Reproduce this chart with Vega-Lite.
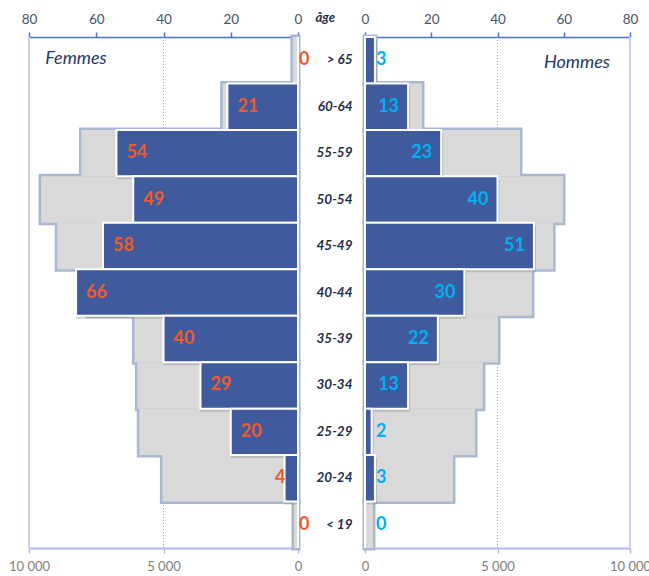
{
  "$schema": "https://vega.github.io/schema/vega-lite/v6.json",
  "padding": {"left": 8, "top": 11, "right": 0, "bottom": 0},
  "bounds": "flush",
  "spacing": 67,
  "config": {
    "font": "Lato",
    "view": {"stroke": null},
    "axis": {"grid": false, "labelFont": "Lato", "titleFont": "Lato"}
  },
  "data": {
    "values": [
      {"age": "> 65", "f": 0, "h": 3, "fPop": 190, "hPop": 380},
      {"age": "60-64", "f": 21, "h": 13, "fPop": 2800, "hPop": 2150},
      {"age": "55-59", "f": 54, "h": 23, "fPop": 8050, "hPop": 5850},
      {"age": "50-54", "f": 49, "h": 40, "fPop": 9550, "hPop": 7470},
      {"age": "45-49", "f": 58, "h": 51, "fPop": 8950, "hPop": 7100},
      {"age": "40-44", "f": 66, "h": 30, "fPop": 7800, "hPop": 6300},
      {"age": "35-39", "f": 40, "h": 22, "fPop": 6080, "hPop": 5020},
      {"age": "30-34", "f": 29, "h": 13, "fPop": 5970, "hPop": 4450},
      {"age": "25-29", "f": 20, "h": 2, "fPop": 5900, "hPop": 4150},
      {"age": "20-24", "f": 4, "h": 3, "fPop": 5040, "hPop": 3320},
      {"age": "< 19", "f": 0, "h": 0, "fPop": 150, "hPop": 300}
    ]
  },
  "hconcat": [
    {
      "width": 269,
      "height": 511,
      "resolve": {"scale": {"x": "independent"}, "axis": {"x": "independent"}},
      "layer": [
        {"mark": {"type": "rule", "color": "#8EA2E6", "strokeDash": [1, 2], "strokeWidth": 1},
         "encoding": {"x": {"datum": 5000, "type": "quantitative", "scale": {"domain": [0, 10000], "reverse": true}, "axis": null}}},
        {"mark": {"type": "rule", "color": "#C9CCF7", "strokeWidth": 2},
         "encoding": {"x": {"datum": 10000, "type": "quantitative", "scale": {"domain": [0, 10000], "reverse": true}, "axis": null}}},
        {"mark": {"type": "bar", "fill": "#A9B8D0", "stroke": "#A9B8D0", "strokeWidth": 5},
         "encoding": {
           "x": {"field": "fPop", "type": "quantitative", "scale": {"domain": [0, 10000], "reverse": true}, "axis": null},
           "y": {"field": "age", "type": "nominal", "sort": ["> 65","60-64","55-59","50-54","45-49","40-44","35-39","30-34","25-29","20-24","< 19"], "scale": {"paddingInner": 0, "paddingOuter": 0}, "axis": null}}},
        {"mark": {"type": "bar", "fill": "#D9D9D9"},
         "encoding": {
           "x": {"field": "fPop", "type": "quantitative", "scale": {"domain": [0, 10000], "reverse": true},
                 "axis": {"orient": "bottom", "values": [0, 5000, 10000], "labelExpr": "replace(format(datum.value, ','), ',', ' ')", "domainColor": "#B3B8F2", "domainWidth": 2, "tickColor": "#B3B8F2", "tickWidth": 1.5, "tickSize": 5, "labelColor": "#808080", "labelFontSize": 13, "labelPadding": 7, "labelFlush": false, "title": null, "grid": false}},
           "y": {"field": "age", "type": "nominal", "sort": ["> 65","60-64","55-59","50-54","45-49","40-44","35-39","30-34","25-29","20-24","< 19"], "scale": {"paddingInner": 0, "paddingOuter": 0}, "axis": null}}},
        {"mark": {"type": "bar", "fill": "#808080", "opacity": 0.35, "yOffset": 3, "y2Offset": 3},
         "encoding": {
           "x": {"field": "f", "type": "quantitative", "scale": {"domain": [0, 80], "reverse": true}, "axis": null},
           "y": {"field": "age", "type": "nominal", "sort": ["> 65","60-64","55-59","50-54","45-49","40-44","35-39","30-34","25-29","20-24","< 19"], "scale": {"paddingInner": 0, "paddingOuter": 0}, "axis": null}}},
        {"mark": {"type": "bar", "fill": "#3F5B9E", "stroke": "#FFFFFF", "strokeWidth": 2},
         "encoding": {
           "x": {"field": "f", "type": "quantitative", "scale": {"domain": [0, 80], "reverse": true},
                 "axis": {"orient": "top", "values": [0, 20, 40, 60, 80], "domainColor": "#4A6FDF", "domainWidth": 1.5, "tickColor": "#4A6FDF", "tickWidth": 1.5, "tickSize": 5, "labelColor": "#44546A", "labelFontSize": 13.5, "labelPadding": 6, "labelFlush": false, "title": null, "grid": false}},
           "y": {"field": "age", "type": "nominal", "sort": ["> 65","60-64","55-59","50-54","45-49","40-44","35-39","30-34","25-29","20-24","< 19"], "scale": {"paddingInner": 0, "paddingOuter": 0}, "axis": null}}},
        {"transform": [{"filter": "datum.f >= 10"}],
         "mark": {"type": "text", "align": "left", "baseline": "middle", "dx": 10, "fontSize": 18, "fontWeight": "bold", "color": "#EE5A2A"},
         "encoding": {
           "x": {"field": "f", "type": "quantitative", "scale": {"domain": [0, 80], "reverse": true}, "axis": null},
           "y": {"field": "age", "type": "nominal", "sort": ["> 65","60-64","55-59","50-54","45-49","40-44","35-39","30-34","25-29","20-24","< 19"], "scale": {"paddingInner": 0, "paddingOuter": 0}, "axis": null},
           "text": {"field": "f", "type": "quantitative"}}},
        {"transform": [{"filter": "datum.f > 0 && datum.f < 10"}],
         "mark": {"type": "text", "align": "right", "baseline": "middle", "dx": 1, "fontSize": 18, "fontWeight": "bold", "color": "#EE5A2A"},
         "encoding": {
           "x": {"field": "f", "type": "quantitative", "scale": {"domain": [0, 80], "reverse": true}, "axis": null},
           "y": {"field": "age", "type": "nominal", "sort": ["> 65","60-64","55-59","50-54","45-49","40-44","35-39","30-34","25-29","20-24","< 19"], "scale": {"paddingInner": 0, "paddingOuter": 0}, "axis": null},
           "text": {"field": "f", "type": "quantitative"}}},
        {"transform": [{"filter": "datum.f == 0"}],
         "mark": {"type": "text", "align": "left", "baseline": "middle", "dx": 1, "fontSize": 18, "fontWeight": "bold", "color": "#EE5A2A"},
         "encoding": {
           "x": {"field": "f", "type": "quantitative", "scale": {"domain": [0, 80], "reverse": true}, "axis": null},
           "y": {"field": "age", "type": "nominal", "sort": ["> 65","60-64","55-59","50-54","45-49","40-44","35-39","30-34","25-29","20-24","< 19"], "scale": {"paddingInner": 0, "paddingOuter": 0}, "axis": null},
           "text": {"field": "f", "type": "quantitative"}}},
        {"transform": [{"filter": "datum.age == '> 65'"}],
         "mark": {"type": "text", "text": "Femmes", "align": "center", "baseline": "middle", "dy": -1, "fontSize": 18, "fontStyle": "italic", "color": "#1F3864"},
         "encoding": {
           "x": {"datum": 66, "type": "quantitative", "scale": {"domain": [0, 80], "reverse": true}, "axis": null},
           "y": {"field": "age", "type": "nominal", "sort": ["> 65","60-64","55-59","50-54","45-49","40-44","35-39","30-34","25-29","20-24","< 19"], "scale": {"paddingInner": 0, "paddingOuter": 0}, "axis": null}}}
      ]
    },
    {
      "width": 265,
      "height": 511,
      "resolve": {"scale": {"x": "independent"}, "axis": {"x": "independent"}},
      "layer": [
        {"mark": {"type": "rule", "color": "#8EA2E6", "strokeDash": [1, 2], "strokeWidth": 1},
         "encoding": {"x": {"datum": 5000, "type": "quantitative", "scale": {"domain": [0, 10000]}, "axis": null}}},
        {"mark": {"type": "rule", "color": "#C9CCF7", "strokeWidth": 2},
         "encoding": {"x": {"datum": 10000, "type": "quantitative", "scale": {"domain": [0, 10000]}, "axis": null}}},
        {"mark": {"type": "bar", "fill": "#A9B8D0", "stroke": "#A9B8D0", "strokeWidth": 5},
         "encoding": {
           "x": {"field": "hPop", "type": "quantitative", "scale": {"domain": [0, 10000]}, "axis": null},
           "y": {"field": "age", "type": "nominal", "sort": ["> 65","60-64","55-59","50-54","45-49","40-44","35-39","30-34","25-29","20-24","< 19"], "scale": {"paddingInner": 0, "paddingOuter": 0},
                 "axis": {"orient": "left", "title": "âge", "titleAngle": 0, "titleX": -50, "titleY": -20, "titleAlign": "left", "titleBaseline": "middle", "titleFontStyle": "italic", "titleFontWeight": "bold", "titleFontSize": 13, "titleColor": "#1F2D4A", "labelFontStyle": "italic", "labelFontWeight": "bold", "labelFontSize": 13.5, "labelColor": "#1F2D4A", "labelPadding": 13, "ticks": false, "tickSize": 0, "domain": true, "domainColor": "#3F5B9E", "domainWidth": 1.5}}}},
        {"mark": {"type": "bar", "fill": "#D9D9D9"},
         "encoding": {
           "x": {"field": "hPop", "type": "quantitative", "scale": {"domain": [0, 10000]},
                 "axis": {"orient": "bottom", "values": [0, 5000, 10000], "labelExpr": "replace(format(datum.value, ','), ',', ' ')", "domainColor": "#B3B8F2", "domainWidth": 2, "tickColor": "#B3B8F2", "tickWidth": 1.5, "tickSize": 5, "labelColor": "#808080", "labelFontSize": 13, "labelPadding": 7, "labelFlush": false, "title": null, "grid": false}},
           "y": {"field": "age", "type": "nominal", "sort": ["> 65","60-64","55-59","50-54","45-49","40-44","35-39","30-34","25-29","20-24","< 19"], "scale": {"paddingInner": 0, "paddingOuter": 0}}}},
        {"mark": {"type": "bar", "fill": "#808080", "opacity": 0.35, "yOffset": 3, "y2Offset": 3, "xOffset": 2, "x2Offset": 2},
         "encoding": {
           "x": {"field": "h", "type": "quantitative", "scale": {"domain": [0, 80]}, "axis": null},
           "y": {"field": "age", "type": "nominal", "sort": ["> 65","60-64","55-59","50-54","45-49","40-44","35-39","30-34","25-29","20-24","< 19"], "scale": {"paddingInner": 0, "paddingOuter": 0}}}},
        {"mark": {"type": "bar", "fill": "#3F5B9E", "stroke": "#FFFFFF", "strokeWidth": 2},
         "encoding": {
           "x": {"field": "h", "type": "quantitative", "scale": {"domain": [0, 80]},
                 "axis": {"orient": "top", "values": [0, 20, 40, 60, 80], "domainColor": "#4A6FDF", "domainWidth": 1.5, "tickColor": "#4A6FDF", "tickWidth": 1.5, "tickSize": 5, "labelColor": "#44546A", "labelFontSize": 13.5, "labelPadding": 6, "labelFlush": false, "title": null, "grid": false}},
           "y": {"field": "age", "type": "nominal", "sort": ["> 65","60-64","55-59","50-54","45-49","40-44","35-39","30-34","25-29","20-24","< 19"], "scale": {"paddingInner": 0, "paddingOuter": 0}}}},
        {"transform": [{"filter": "datum.h >= 10"}],
         "mark": {"type": "text", "align": "right", "baseline": "middle", "dx": -9, "fontSize": 18, "fontWeight": "bold", "color": "#00B0F0"},
         "encoding": {
           "x": {"field": "h", "type": "quantitative", "scale": {"domain": [0, 80]}, "axis": null},
           "y": {"field": "age", "type": "nominal", "sort": ["> 65","60-64","55-59","50-54","45-49","40-44","35-39","30-34","25-29","20-24","< 19"], "scale": {"paddingInner": 0, "paddingOuter": 0}},
           "text": {"field": "h", "type": "quantitative"}}},
        {"transform": [{"filter": "datum.h < 10"}],
         "mark": {"type": "text", "align": "left", "baseline": "middle", "dx": 11, "fontSize": 18, "fontWeight": "bold", "color": "#00B0F0"},
         "encoding": {
           "x": {"datum": 0, "type": "quantitative", "scale": {"domain": [0, 80]}, "axis": null},
           "y": {"field": "age", "type": "nominal", "sort": ["> 65","60-64","55-59","50-54","45-49","40-44","35-39","30-34","25-29","20-24","< 19"], "scale": {"paddingInner": 0, "paddingOuter": 0}},
           "text": {"field": "h", "type": "quantitative"}}},
        {"transform": [{"filter": "datum.age == '> 65'"}],
         "mark": {"type": "text", "text": "Hommes", "align": "center", "baseline": "middle", "dy": 3, "fontSize": 18, "fontStyle": "italic", "color": "#1F3864"},
         "encoding": {
           "x": {"datum": 64, "type": "quantitative", "scale": {"domain": [0, 80]}, "axis": null},
           "y": {"field": "age", "type": "nominal", "sort": ["> 65","60-64","55-59","50-54","45-49","40-44","35-39","30-34","25-29","20-24","< 19"], "scale": {"paddingInner": 0, "paddingOuter": 0}}}}
      ]
    }
  ]
}
